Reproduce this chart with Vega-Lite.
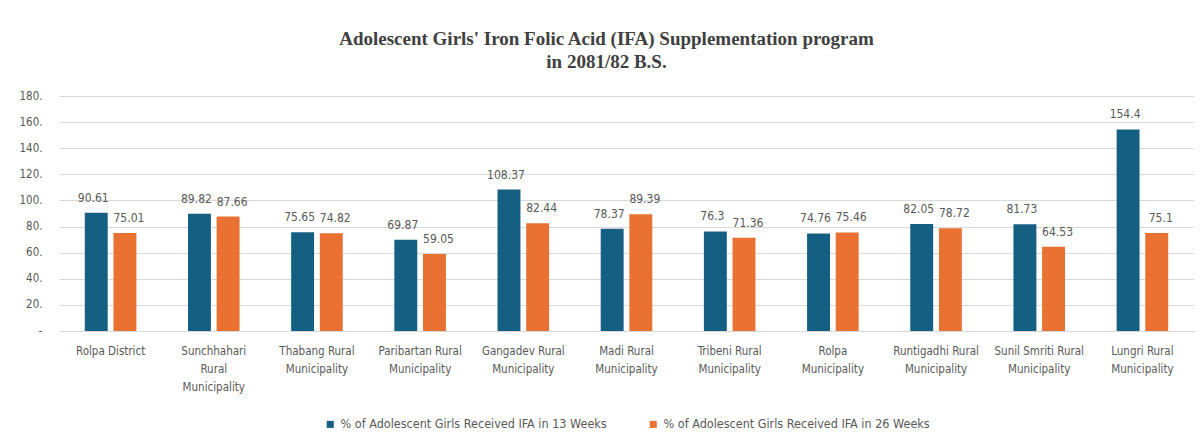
{
  "$schema": "https://vega.github.io/schema/vega-lite/v6.json",
  "width": 1135,
  "height": 235,
  "padding": {"left": 18, "top": 30, "right": 5, "bottom": 5},
  "background": "white",
  "title": {
    "text": ["Adolescent Girls' Iron Folic Acid (IFA) Supplementation program", "in 2081/82 B.S."],
    "font": "Liberation Serif",
    "fontSize": 19,
    "fontWeight": "bold",
    "color": "#404040",
    "lineHeight": 23,
    "offset": 18,
    "anchor": "middle",
    "frame": "bounds"
  },
  "config": {
    "view": {"stroke": null},
    "font": "Liberation Sans Narrow, DejaVu Sans Condensed, sans-serif",
    "legend": {"layout": {"bottom": {"anchor": "middle"}}}
  },
  "data": {
    "values": [
      {"area": "Rolpa District", "series": "% of Adolescent Girls Received IFA in 13 Weeks", "value": 90.61},
      {"area": "Rolpa District", "series": "% of Adolescent Girls Received IFA in 26 Weeks", "value": 75.01},
      {"area": "Sunchhahari Rural Municipality", "series": "% of Adolescent Girls Received IFA in 13 Weeks", "value": 89.82},
      {"area": "Sunchhahari Rural Municipality", "series": "% of Adolescent Girls Received IFA in 26 Weeks", "value": 87.66},
      {"area": "Thabang Rural Municipality", "series": "% of Adolescent Girls Received IFA in 13 Weeks", "value": 75.65},
      {"area": "Thabang Rural Municipality", "series": "% of Adolescent Girls Received IFA in 26 Weeks", "value": 74.82},
      {"area": "Paribartan Rural Municipality", "series": "% of Adolescent Girls Received IFA in 13 Weeks", "value": 69.87},
      {"area": "Paribartan Rural Municipality", "series": "% of Adolescent Girls Received IFA in 26 Weeks", "value": 59.05},
      {"area": "Gangadev Rural Municipality", "series": "% of Adolescent Girls Received IFA in 13 Weeks", "value": 108.37},
      {"area": "Gangadev Rural Municipality", "series": "% of Adolescent Girls Received IFA in 26 Weeks", "value": 82.44},
      {"area": "Madi Rural Municipality", "series": "% of Adolescent Girls Received IFA in 13 Weeks", "value": 78.37},
      {"area": "Madi Rural Municipality", "series": "% of Adolescent Girls Received IFA in 26 Weeks", "value": 89.39},
      {"area": "Tribeni Rural Municipality", "series": "% of Adolescent Girls Received IFA in 13 Weeks", "value": 76.3},
      {"area": "Tribeni Rural Municipality", "series": "% of Adolescent Girls Received IFA in 26 Weeks", "value": 71.36},
      {"area": "Rolpa Municipality", "series": "% of Adolescent Girls Received IFA in 13 Weeks", "value": 74.76},
      {"area": "Rolpa Municipality", "series": "% of Adolescent Girls Received IFA in 26 Weeks", "value": 75.46},
      {"area": "Runtigadhi Rural Municipality", "series": "% of Adolescent Girls Received IFA in 13 Weeks", "value": 82.05},
      {"area": "Runtigadhi Rural Municipality", "series": "% of Adolescent Girls Received IFA in 26 Weeks", "value": 78.72},
      {"area": "Sunil Smriti Rural Municipality", "series": "% of Adolescent Girls Received IFA in 13 Weeks", "value": 81.73},
      {"area": "Sunil Smriti Rural Municipality", "series": "% of Adolescent Girls Received IFA in 26 Weeks", "value": 64.53},
      {"area": "Lungri Rural Municipality", "series": "% of Adolescent Girls Received IFA in 13 Weeks", "value": 154.4},
      {"area": "Lungri Rural Municipality", "series": "% of Adolescent Girls Received IFA in 26 Weeks", "value": 75.1}
    ]
  },
  "encoding": {
    "x": {
      "field": "area",
      "type": "nominal",
      "sort": null,
      "scale": {"paddingInner": 0.5, "paddingOuter": 0.25},
      "axis": {
        "title": null,
        "labelAngle": 0,
        "ticks": false,
        "domainColor": "#d9d9d9",
        "labelColor": "#595959",
        "labelFontSize": 11.5,
        "labelLineHeight": 18,
        "labelPadding": 14,
        "labelExpr": "split(replace(replace(datum.label, ' Municipality', '|Municipality'), 'Sunchhahari ', 'Sunchhahari|'), '|')"
      }
    },
    "xOffset": {"field": "series", "sort": null, "scale": {"paddingInner": 0.2}},
    "y": {
      "field": "value",
      "type": "quantitative",
      "scale": {"domain": [0, 180]},
      "axis": {
        "title": null,
        "values": [0, 20, 40, 60, 80, 100, 120, 140, 160, 180],
        "labelExpr": "datum.value == 0 ? '-' : datum.value + '.'",
        "domain": false,
        "ticks": false,
        "gridColor": "#d9d9d9",
        "labelColor": "#595959",
        "labelFontSize": 11.5,
        "labelPadding": 17
      }
    }
  },
  "layer": [
    {
      "mark": {"type": "bar"},
      "encoding": {
        "color": {
          "field": "series",
          "type": "nominal",
          "scale": {"range": ["#156082", "#E97132"]},
          "legend": {
            "title": null,
            "orient": "bottom",
            "direction": "horizontal",
            "symbolType": "square",
            "symbolSize": 50,
            "labelFontSize": 12.5,
            "labelColor": "#595959",
            "labelLimit": 0,
            "columnPadding": 40,
            "offset": 25
          }
        }
      }
    },
    {
      "transform": [{"filter": "indexof(datum.series, '13 Weeks') >= 0"}],
      "mark": {"type": "text", "dy": -8, "dx": -3, "baseline": "bottom", "fontSize": 12, "color": "#595959"},
      "encoding": {
        "text": {"field": "value", "type": "quantitative"}
      }
    },
    {
      "transform": [{"filter": "indexof(datum.series, '26 Weeks') >= 0"}],
      "mark": {"type": "text", "dy": -8, "dx": 4, "baseline": "bottom", "fontSize": 12, "color": "#595959"},
      "encoding": {
        "text": {"field": "value", "type": "quantitative"}
      }
    }
  ]
}
